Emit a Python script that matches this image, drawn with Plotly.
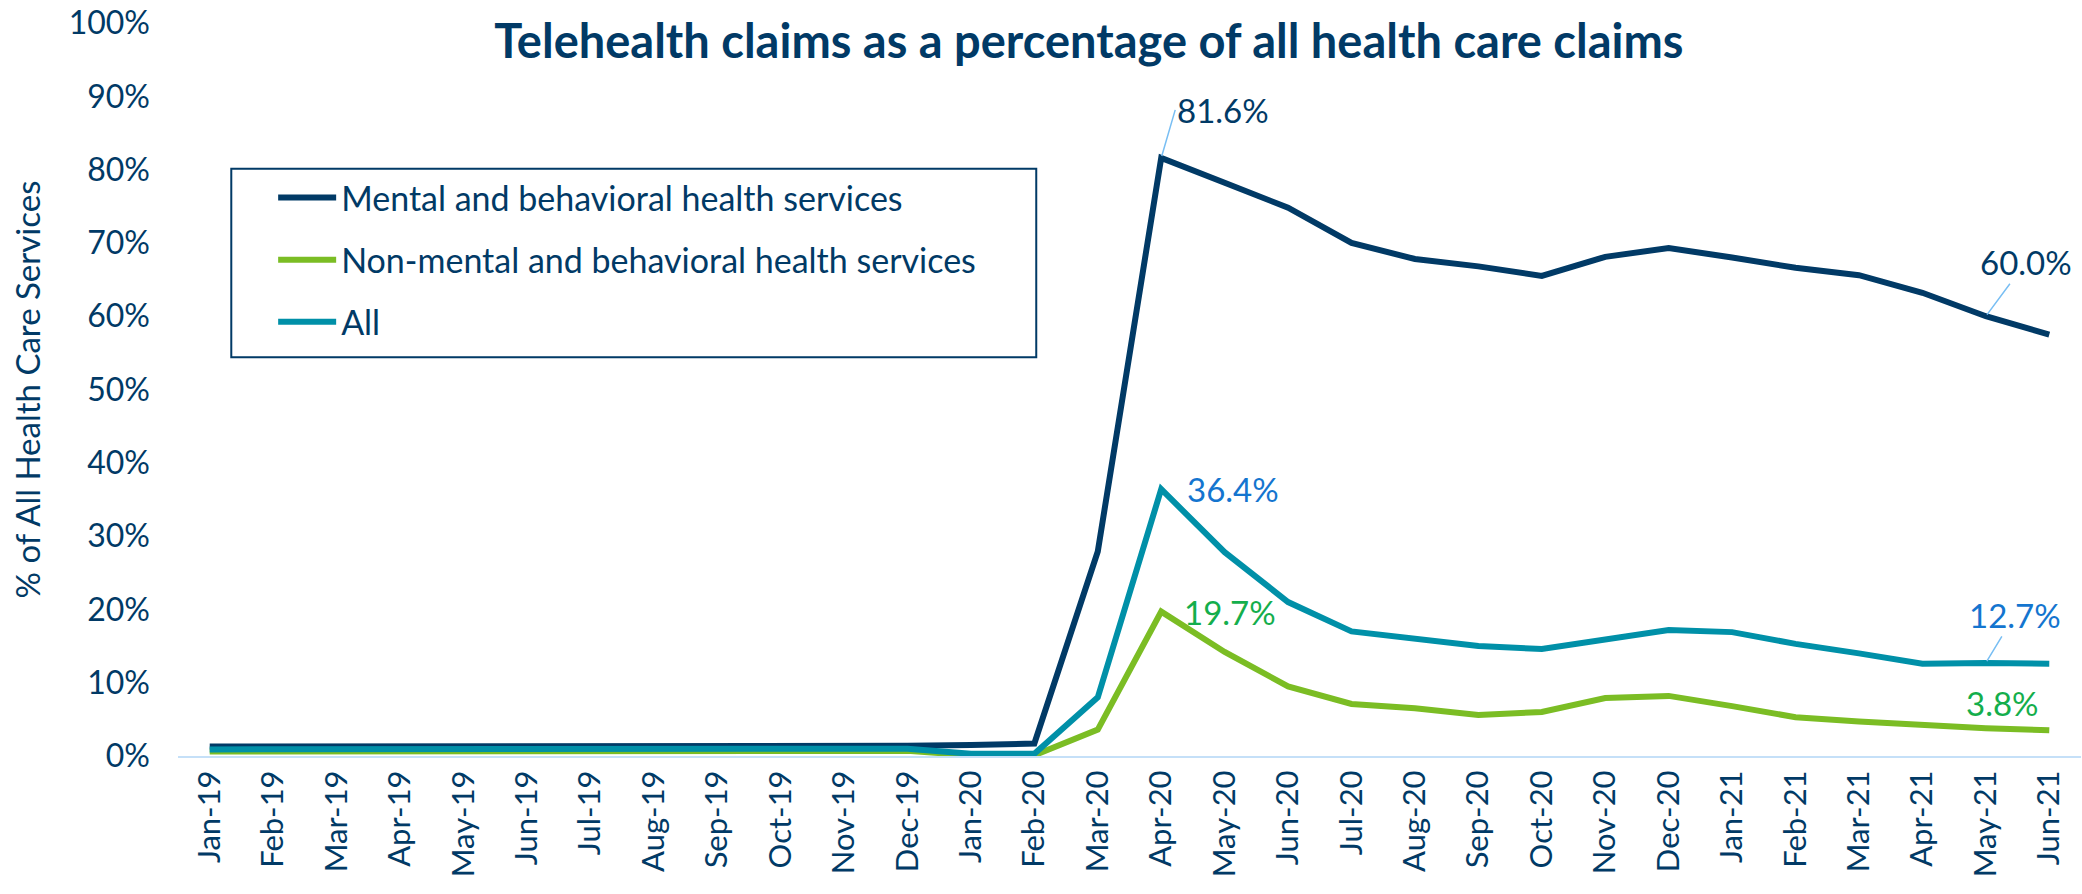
import plotly.graph_objects as go

months = ["Jan-19", "Feb-19", "Mar-19", "Apr-19", "May-19", "Jun-19", "Jul-19", "Aug-19",
          "Sep-19", "Oct-19", "Nov-19", "Dec-19", "Jan-20", "Feb-20", "Mar-20", "Apr-20",
          "May-20", "Jun-20", "Jul-20", "Aug-20", "Sep-20", "Oct-20", "Nov-20", "Dec-20",
          "Jan-21", "Feb-21", "Mar-21", "Apr-21", "May-21", "Jun-21"]

# values in percent
mental = [1.3, 1.3, 1.3, 1.2, 1.2, 1.2, 1.3, 1.4, 1.3, 1.3, 1.4, 1.4, 1.5, 1.7, 27.9, 81.6,
          78.2, 74.8, 70.0, 67.8, 66.8, 65.5, 68.1, 69.3, 68.0, 66.6, 65.6, 63.2, 60.0, 57.5]
non_mental = [0.6, 0.6, 0.6, 0.5, 0.5, 0.5, 0.5, 0.6, 0.6, 0.6, 0.6, 0.7, 0.1, 0.1, 3.6, 19.7,
              14.2, 9.5, 7.1, 6.5, 5.6, 6.0, 7.9, 8.2, 6.8, 5.3, 4.7, 4.2, 3.8, 3.5]
all_claims = [0.9, 0.9, 0.8, 0.8, 0.8, 0.8, 0.8, 0.9, 0.9, 0.9, 0.9, 1.0, 0.3, 0.3, 8.0, 36.4,
              27.8, 21.0, 17.0, 16.0, 15.0, 14.6, 16.0, 17.2, 16.9, 15.3, 14.0, 12.6, 12.7, 12.6]

NAVY = "#013A66"
GREEN = "#7BBD24"
TEAL = "#0090A8"
BLUE_LBL = "#1475CF"
GREEN_LBL = "#14AE4C"
FONT = "Lato"
LBL_SIZE = 33

fig = go.Figure()

series = [
    ("Mental and behavioral health services", mental, NAVY),
    ("Non-mental and behavioral health services", non_mental, GREEN),
    ("All", all_claims, TEAL),
]
for i, (name, vals, color) in enumerate(series):
    fig.add_trace(go.Scatter(
        x=months, y=[v / 100 for v in vals],
        mode="lines", name=name, legendgroup=str(i),
        line=dict(color=color, width=6),
    ))

# data labels with leader lines
labels = [
    dict(x="Apr-20", y=mental[15] / 100, text="81.6%", color=NAVY, ax=14, ay=-48, xanchor="left"),
    dict(x="May-21", y=mental[28] / 100, text="60.0%", color=NAVY, ax=40, ay=-54, xanchor="center"),
    dict(x="May-21", y=all_claims[28] / 100, text="12.7%", color=BLUE_LBL, ax=29, ay=-48, xanchor="center"),
]
for a in labels:
    fig.add_annotation(
        x=a["x"], y=a["y"], text=a["text"], showarrow=True,
        ax=a["ax"], ay=a["ay"], xanchor=a["xanchor"], yanchor="middle",
        arrowhead=0, arrowwidth=1.5, arrowcolor="#78BEF3", standoff=2,
        font=dict(family=FONT, size=LBL_SIZE, color=a["color"]),
    )

fig.add_annotation(x="Apr-20", y=all_claims[15] / 100, text="36.4%", showarrow=False,
                   xanchor="left", yanchor="middle", xshift=24,
                   font=dict(family=FONT, size=LBL_SIZE, color=BLUE_LBL))
fig.add_annotation(x="Apr-20", y=non_mental[15] / 100, text="19.7%", showarrow=False,
                   xanchor="left", yanchor="middle", xshift=21,
                   font=dict(family=FONT, size=LBL_SIZE, color=GREEN_LBL))
fig.add_annotation(x="May-21", y=non_mental[28] / 100, text="3.8%", showarrow=False,
                   xanchor="center", yanchor="middle", xshift=17, yshift=25,
                   font=dict(family=FONT, size=LBL_SIZE, color=GREEN_LBL))

# legend frame
fig.add_shape(type="rect", xref="paper", yref="paper",
              x0=0.028, x1=0.451, y0=0.544, y1=0.801,
              line=dict(color=NAVY, width=2), fillcolor="white", layer="below")

fig.update_layout(
    width=2082, height=894,
    title=dict(text="<b>Telehealth claims as a percentage of all health care claims</b>",
               x=0.523, xanchor="center", y=0.9534, yanchor="middle",
               font=dict(family=FONT, size=47, color=NAVY)),
    font=dict(family=FONT, color=NAVY),
    paper_bgcolor="white",
    plot_bgcolor="white",
    margin=dict(l=178, r=1, t=23, b=138),
    showlegend=True,
    legend=dict(x=0.050, y=0.801, xanchor="left", yanchor="top",
                bgcolor="rgba(0,0,0,0)", borderwidth=0,
                font=dict(family=FONT, size=34, color=NAVY),
                tracegroupgap=15, itemwidth=58),
    xaxis=dict(type="category", range=[-0.5, 29.5], tickangle=-90, showgrid=False, ticks="",
               showline=True, linecolor="#C5E0F8", linewidth=2, automargin=False,
               tickfont=dict(family=FONT, size=31, color=NAVY)),
    yaxis=dict(range=[0, 1], dtick=0.1, tickformat=".0%", showgrid=False, automargin=False,
               zeroline=False, showline=False, ticks="", ticklabelstandoff=27,
               ticklabeloverflow="allow",
               title=dict(text="% of All Health Care Services", standoff=18,
                          font=dict(family=FONT, size=33, color=NAVY)),
               tickfont=dict(family=FONT, size=32, color=NAVY)),
)

fig.write_html("out.html", config={"displayModeBar": False},
               post_script="document.body.style.margin = '0';")
